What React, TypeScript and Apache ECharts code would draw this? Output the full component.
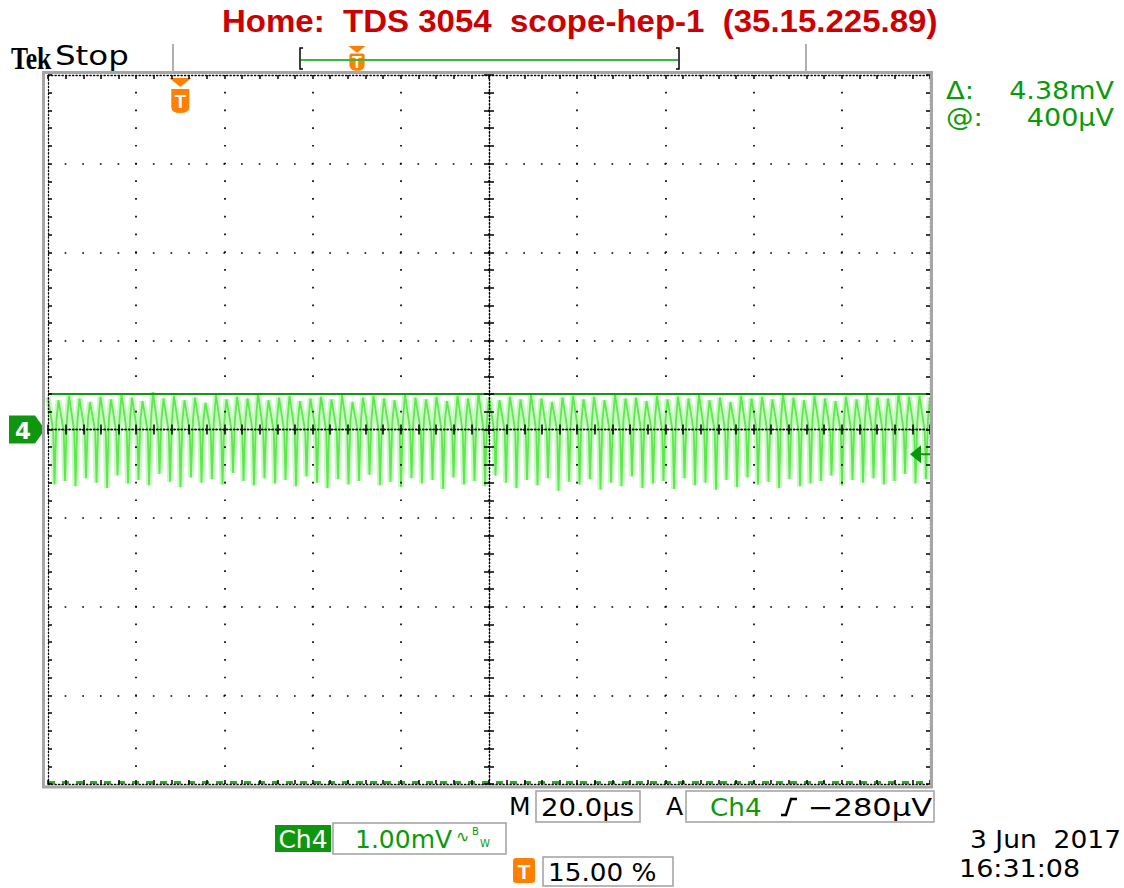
import React, { useEffect, useRef } from "react";
import * as echarts from "echarts";

// ---- scales (20 µs/div, 1 mV/div) ----
const TIME_RANGE = [-100, 100];
const TIME_DIV = 20;
const VOLT_RANGE = [-4, 4];
const VOLT_DIV = 1;

// ---- Ch4 trace, read per oscillation cycle (mV) ----
const cycleHigh = [
  0.36, 0.33, 0.38, 0.35, 0.31, 0.37, 0.34, 0.4, 0.36, 0.32, 0.42, 0.35,
  0.38, 0.33, 0.36, 0.3, 0.39, 0.34, 0.37, 0.35, 0.41, 0.33, 0.36, 0.38,
  0.32, 0.35, 0.37, 0.34, 0.39, 0.31, 0.36, 0.38, 0.35, 0.33, 0.4, 0.36,
  0.34, 0.37, 0.32, 0.38, 0.35, 0.41, 0.36, 0.33, 0.37, 0.34, 0.39, 0.35,
  0.31, 0.36, 0.38, 0.34, 0.37, 0.33, 0.4, 0.35, 0.36, 0.32, 0.38, 0.34,
  0.37, 0.35, 0.39, 0.33, 0.36, 0.31, 0.38, 0.35, 0.37, 0.34, 0.4, 0.36,
  0.33, 0.38, 0.35, 0.32, 0.37, 0.34, 0.39, 0.36, 0.35, 0.41, 0.37, 0.38,
];
const cycleLow = [
  -0.62, -0.58, -0.64, -0.55, -0.6, -0.66, -0.52, -0.61, -0.57, -0.63, -0.5, -0.59,
  -0.65, -0.54, -0.6, -0.56, -0.62, -0.49, -0.58, -0.63, -0.55, -0.61, -0.57, -0.64,
  -0.53, -0.6, -0.66, -0.56, -0.62, -0.58, -0.51, -0.63, -0.59, -0.65, -0.55, -0.61,
  -0.57, -0.67, -0.54, -0.62, -0.58, -0.64, -0.52, -0.6, -0.66, -0.57, -0.63, -0.55,
  -0.69, -0.59, -0.62, -0.56, -0.68, -0.6, -0.64, -0.53, -0.66, -0.61, -0.58, -0.67,
  -0.55, -0.63, -0.6, -0.68, -0.57, -0.65, -0.54, -0.62, -0.59, -0.66, -0.56, -0.64,
  -0.61, -0.58, -0.52, -0.63, -0.57, -0.6, -0.55, -0.62, -0.58, -0.5, -0.61, -0.56,
];
const KNEE_MV = -0.02;
const RETURN_MV = 0.1;

// ---- markers ----
const cursorLevels = [0.4, -3.98]; // mV
const triggerLevel = -0.28; // mV
const triggerTime = -70; // µs (15 % of record)
const groundLevel = 0;

// ---- texts ----
const titleText = "Home:  TDS 3054  scope-hep-1  (35.15.225.89)";
const deltaLabel = "Δ:";
const deltaValue = "4.38mV";
const atLabel = "@:";
const atValue = "400µV";
const timeBase = "20.0µs";
const trigSource = "Ch4";
const trigLevelText = "−280µV";
const chName = "Ch4";
const chScale = "1.00mV";
const trigPosText = "15.00 %";
const dateText = "3 Jun  2017";
const timeText = "16:31:08";

const GREEN_TXT = "#0a9a0a";
const ORANGE = "#ff8000";
const FONT = '"DejaVu Sans", sans-serif';

const GL = 48, GT = 75, GW = 882, GH = 709;
const dotX = GW / 50;
const dotY = GH / 40;

function buildTrace(): [number, number][] {
  const n = cycleHigh.length;
  const period = (TIME_RANGE[1] - TIME_RANGE[0]) / n;
  const pts: [number, number][] = [];
  for (let i = 0; i < n; i++) {
    const t0 = TIME_RANGE[0] + i * period;
    pts.push([t0, cycleHigh[i]]);
    pts.push([t0 + 0.5 * period, KNEE_MV]);
    pts.push([t0 + 0.62 * period, cycleLow[i]]);
    pts.push([t0 + 0.8 * period, RETURN_MV]);
  }
  pts.push([TIME_RANGE[1], cycleHigh[0]]);
  return pts;
}

const dense = { color: "#000", width: 1.3, type: [1.3, 2.2] as any };
const tickStyle = { color: "#000", width: 1.5 };

function xAx(extra: any) {
  return {
    type: "value",
    min: TIME_RANGE[0],
    max: TIME_RANGE[1],
    interval: TIME_DIV,
    axisLabel: { show: false },
    splitLine: { show: false },
    z: 5,
    ...extra,
  };
}
function yAx(extra: any) {
  return {
    type: "value",
    min: VOLT_RANGE[0],
    max: VOLT_RANGE[1],
    interval: VOLT_DIV,
    axisLabel: { show: false },
    splitLine: { show: false },
    z: 5,
    ...extra,
  };
}

function tMarker(cx: number, top: number, s: number, z = 100): any {
  return {
    type: "group",
    z,
    children: [
      {
        type: "polygon",
        shape: { points: [[cx - 9 * s, top], [cx + 9 * s, top], [cx, top + 7 * s]] },
        style: { fill: ORANGE },
      },
      {
        type: "rect",
        shape: { x: cx - 8 * s, y: top + 8 * s, width: 16 * s, height: 18 * s, r: [2, 2, 6 * s, 6 * s] },
        style: { fill: ORANGE },
      },
      {
        type: "text",
        x: cx,
        y: top + 17.5 * s,
        style: { text: "T", fill: "#fff", font: `bold ${Math.round(17 * s)}px "Liberation Sans"`, align: "center", verticalAlign: "middle" },
      },
    ],
  };
}

export default function App() {
  const ref = useRef<HTMLDivElement>(null);
  useEffect(() => {
    if (!ref.current) return;
    const chart = echarts.init(ref.current, undefined, { renderer: "svg" });
    const trace = buildTrace();
    const splitX = {
      show: true,
      showMinLine: false,
      showMaxLine: false,
      lineStyle: { color: "#000", width: 1.7, type: [1.7, dotY - 1.7], dashOffset: 0.85 },
    };
    const splitY = {
      show: true,
      showMinLine: false,
      showMaxLine: false,
      lineStyle: { color: "#000", width: 1.7, type: [1.7, dotX - 1.7], dashOffset: 0.85 },
    };
    const minorT = (len: number) => ({ show: true, splitNumber: 5, length: len, lineStyle: tickStyle });
    const majorT = (len: number, inside: boolean) => ({ show: true, length: len, inside, lineStyle: tickStyle });

    const txt = (x: number, y: number, text: string, opt: any = {}) => ({
      type: "text",
      x,
      y,
      z: 100,
      scaleX: opt.scaleX ?? 1,
      style: {
        text,
        fill: opt.fill ?? "#000",
        font: opt.font ?? `25px ${FONT}`,
        align: opt.align ?? "left",
        verticalAlign: "middle",
      },
    });
    const box = (x: number, y: number, w: number, h: number) => ({
      type: "rect",
      z: 100,
      shape: { x, y, width: w, height: h },
      style: { fill: "none", stroke: "#a0a0a0", lineWidth: 1.5 },
    });

    chart.setOption({
      animation: false,
      backgroundColor: "#fff",
      grid: { left: GL, top: GT, width: GW, height: GH, outerBoundsMode: "none", containLabel: false },
      xAxis: [
        xAx({ position: "bottom", axisLine: { show: true, onZero: true, lineStyle: dense }, axisTick: majorT(5, false), minorTick: minorT(5), splitLine: splitX }),
        xAx({ position: "bottom", axisLine: { show: true, onZero: true, lineStyle: dense }, axisTick: majorT(5, true), minorTick: minorT(5) }),
        xAx({ position: "top", axisLine: { show: true, onZero: false, lineStyle: dense }, axisTick: majorT(4, true), minorTick: minorT(4) }),
        xAx({ position: "bottom", axisLine: { show: true, onZero: false, lineStyle: dense }, axisTick: majorT(4, true), minorTick: minorT(4) }),
      ],
      yAxis: [
        yAx({ position: "left", axisLine: { show: true, onZero: true, lineStyle: dense }, axisTick: majorT(5, false), minorTick: minorT(5), splitLine: splitY }),
        yAx({ position: "left", axisLine: { show: true, onZero: true, lineStyle: dense }, axisTick: majorT(5, true), minorTick: minorT(5) }),
        yAx({ position: "left", axisLine: { show: true, onZero: false, lineStyle: dense }, axisTick: majorT(4, true), minorTick: minorT(4) }),
        yAx({ position: "right", axisLine: { show: true, onZero: false, lineStyle: dense }, axisTick: majorT(4, true), minorTick: minorT(4) }),
      ],
      series: [
        {
          name: "Ch4 glow",
          type: "line",
          xAxisIndex: 0,
          yAxisIndex: 0,
          data: trace,
          showSymbol: false,
          symbol: "none",
          silent: true,
          z: 1,
          lineStyle: { color: "#7cf06e", width: 6, opacity: 0.4 },
        },
        {
          name: "Ch4",
          type: "line",
          xAxisIndex: 0,
          yAxisIndex: 0,
          data: trace,
          showSymbol: false,
          symbol: "none",
          silent: true,
          z: 2,
          lineStyle: { color: "#5ee84e", width: 1.8 },
          markLine: {
            silent: true,
            symbol: ["none", "none"],
            label: { show: false },
            data: [
              { yAxis: cursorLevels[0], lineStyle: { color: "#109a10", width: 2, type: "solid" } },
              { yAxis: cursorLevels[1], lineStyle: { color: "#22b022", width: 3, type: [7, 7] } },
            ],
          },
          markPoint: {
            silent: true,
            data: [
              {
                name: "ground",
                coord: [TIME_RANGE[0], groundLevel],
                symbol: "path://M0,0 L26,0 L36,14 L26,28 L0,28 Z",
                symbolSize: [36, 28],
                symbolOffset: [-21, 0],
                itemStyle: { color: "#0f960f" },
                label: { show: true, formatter: "4", color: "#fff", fontSize: 23, fontWeight: "bold", fontFamily: "DejaVu Sans", position: "inside", offset: [-4, 1] },
              },
              {
                name: "trigger level",
                coord: [TIME_RANGE[1], triggerLevel],
                symbol: "path://M0,9 L11,0 L11,8 L20,8 L20,10 L11,10 L11,18 Z",
                symbolSize: [20, 18],
                symbolOffset: [-10, 0],
                itemStyle: { color: "#0a960a" },
                label: { show: false },
              },
              {
                name: "trigger position",
                coord: [triggerTime, VOLT_RANGE[1]],
                symbol: "path://M0,0 L22,0 L11,9 Z M2,11 L20,11 L20,29 Q20,35 11,35 Q2,35 2,29 Z",
                symbolSize: [22, 35],
                symbolOffset: [0, 20.5],
                itemStyle: { color: ORANGE },
                label: { show: true, formatter: "T", color: "#fff", fontSize: 19, fontWeight: "bold", fontFamily: "Liberation Sans", position: "inside", offset: [0, 6] },
              },
            ],
          },
        },
      ],
      graphic: [
        // screen frame
        { type: "rect", z: 100, shape: { x: 43.5, y: 72.5, width: 888, height: 714.5 }, style: { fill: "none", stroke: "#a6a6a6", lineWidth: 3 } },
        // title
        txt(222, 21, titleText, { fill: "#cc0000", font: 'bold 31px "Liberation Sans"', scaleX: 1.065 }),
        txt(11, 58, "Tek", { font: 'bold 32px "Liberation Serif"', scaleX: 0.8 }),
        txt(55, 56, "Stop", { font: `26px ${FONT}`, scaleX: 1.25 }),
        // record bar
        { type: "line", z: 100, shape: { x1: 173, y1: 44, x2: 173, y2: 72 }, style: { stroke: "#b0b0b0", lineWidth: 2 } },
        { type: "line", z: 100, shape: { x1: 806, y1: 44, x2: 806, y2: 72 }, style: { stroke: "#b0b0b0", lineWidth: 2 } },
        { type: "line", z: 100, shape: { x1: 301, y1: 60, x2: 678, y2: 60 }, style: { stroke: "#3cb83c", lineWidth: 2 } },
        { type: "polyline", z: 100, shape: { points: [[303, 48], [300, 48], [300, 69], [303, 69]] }, style: { stroke: "#000", lineWidth: 1.5, fill: "none" } },
        { type: "polyline", z: 100, shape: { points: [[676, 48], [679, 48], [679, 69], [676, 69]] }, style: { stroke: "#000", lineWidth: 1.5, fill: "none" } },
        tMarker(357, 46, 0.95),
        // cursor readouts
        txt(946, 90, deltaLabel, { fill: GREEN_TXT, scaleX: 1.1 }),
        txt(1114, 90, deltaValue, { fill: GREEN_TXT, align: "right", scaleX: 1.08 }),
        txt(946, 117, atLabel, { fill: GREEN_TXT, scaleX: 1.1 }),
        txt(1114, 117, atValue, { fill: GREEN_TXT, align: "right", scaleX: 1.08 }),
        // bottom readouts
        txt(509, 806, "M"),
        box(536, 791, 104, 31),
        txt(541, 807, timeBase, { scaleX: 1.1 }),
        txt(666, 806, "A"),
        box(686, 791, 248, 31),
        txt(710, 807, trigSource, { fill: GREEN_TXT, scaleX: 1.05 }),
        { type: "polyline", z: 100, shape: { points: [[781, 815], [786, 815], [791, 799], [797, 799]] }, style: { stroke: "#000", lineWidth: 2.5, fill: "none" } },
        txt(932, 807, trigLevelText, { align: "right", scaleX: 1.22 }),
        { type: "rect", z: 100, shape: { x: 275, y: 825, width: 56, height: 27 }, style: { fill: "#0f960f" } },
        txt(303, 839, chName, { fill: "#fff", align: "center" }),
        box(333, 823, 173, 31),
        txt(355, 839, chScale, { fill: GREEN_TXT }),
        txt(456, 836, "∿", { fill: GREEN_TXT, font: `16px ${FONT}` }),
        txt(472, 831, "B", { fill: GREEN_TXT, font: `10px ${FONT}` }),
        txt(480, 843, "W", { fill: GREEN_TXT, font: `10px ${FONT}` }),
        { type: "rect", z: 100, shape: { x: 513, y: 858, width: 22, height: 25, r: 3 }, style: { fill: ORANGE } },
        txt(524, 871, "T", { fill: "#fff", font: 'bold 21px "Liberation Sans"', align: "center" }),
        box(543, 857, 130, 29),
        txt(548, 872, trigPosText, { scaleX: 1.05 }),
        txt(1121, 839, dateText, { align: "right", scaleX: 1.06 }),
        txt(959, 868, timeText, { scaleX: 1.08 }),
      ],
    });
    return () => chart.dispose();
  }, []);
  return (
    <div style={{ position: "fixed", left: 0, top: 0, width: 1124, height: 888, background: "#fff" }}>
      <div ref={ref} style={{ width: 1124, height: 888 }} />
    </div>
  );
}
